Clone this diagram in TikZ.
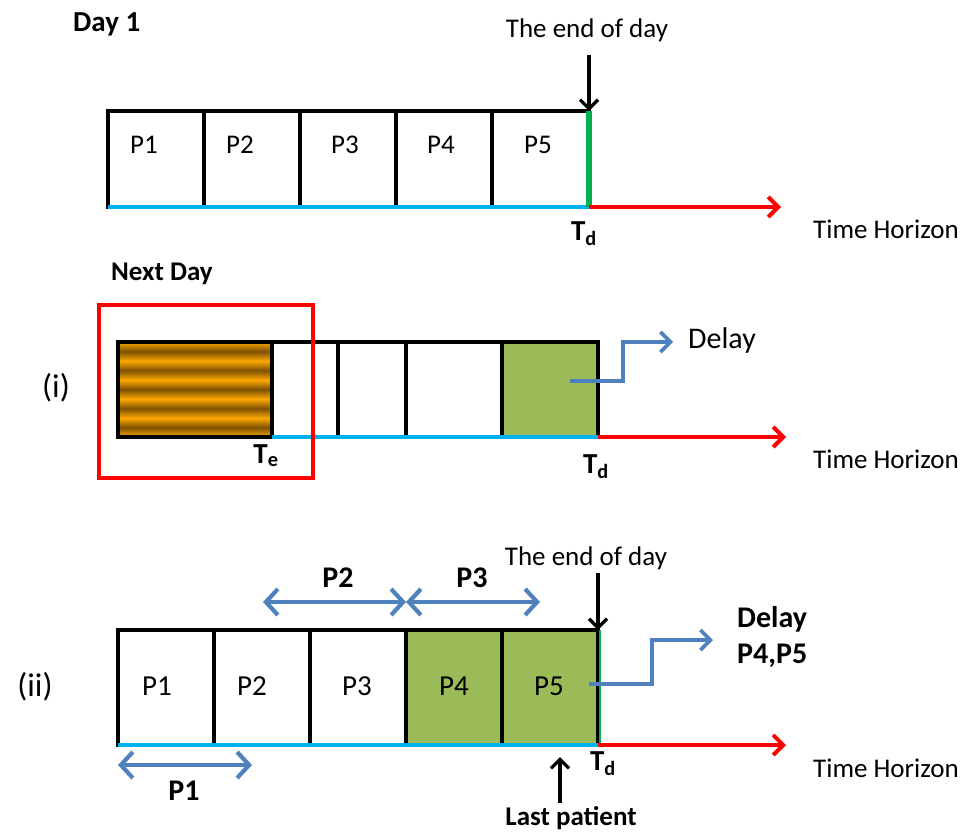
\documentclass[tikz,border=0pt]{standalone}
\usepackage{fontspec}
\setmainfont{Carlito}
\usetikzlibrary{arrows.meta}
\definecolor{cellgreen}{RGB}{155,187,89}
\definecolor{axisblue}{RGB}{0,176,240}
\definecolor{arrowblue}{RGB}{79,129,189}
\definecolor{edgegreen}{RGB}{0,176,80}
\definecolor{stripeorange}{RGB}{252,166,0}
\definecolor{stripebrown}{RGB}{125,82,0}
\tikzset{
  cell/.style={draw=black, line width=3.2pt, inner sep=0pt, outer sep=0pt, anchor=north west},
  lbl/.style={font=\fontsize{27}{31}\selectfont, inner sep=0pt, anchor=base},
  blbl/.style={font=\fontsize{27}{31}\selectfont\bfseries, inner sep=0pt, anchor=base},
  baseline/.style={draw=axisblue, line width=4pt},
  horizon/.style={draw=red, line width=4pt, -{Straight Barb[length=10pt,width=20pt,line width=4pt]}},
  blackarrow/.style={draw=black, line width=3.2pt, -{Straight Barb[length=9pt,width=18pt,line width=3.2pt]}},
  bluearrow/.style={draw=arrowblue, line width=3.6pt, -{Straight Barb[length=10pt,width=20pt,line width=3.6pt]}},
  dblarrow/.style={draw=arrowblue, line width=4.2pt, {Straight Barb[length=12pt,width=26pt,line width=4.2pt]}-{Straight Barb[length=12pt,width=26pt,line width=4.2pt]}},
}
\newcommand{\Td}{T\textsubscript{d}}
\begin{document}
\begin{tikzpicture}[x=1pt,y=-1pt]
\useasboundingbox (0,0) rectangle (963,833);

% ---------------- Day 1 ----------------
\node[blbl, anchor=base west, font=\fontsize{29}{33}\selectfont\bfseries] (day1) at (73,31) {Day 1};
\node[cell, minimum width=96pt, minimum height=96pt] (t1) at (108,111) {};
\node[cell, minimum width=96pt, minimum height=96pt] (t2) at (204,111) {};
\node[cell, minimum width=96pt, minimum height=96pt] (t3) at (300,111) {};
\node[cell, minimum width=96pt, minimum height=96pt] (t4) at (396,111) {};
\node[cell, minimum width=97pt, minimum height=96pt] (t5) at (492,111) {};
\node[lbl] (tp1) at (144,153) {P1};
\node[lbl] (tp2) at (240,153) {P2};
\node[lbl] (tp3) at (345,153) {P3};
\node[lbl] (tp4) at (441,153) {P4};
\node[lbl] (tp5) at (538,153) {P5};
\draw[baseline] (t1.south west) -- (t5.south east);
\draw[draw=edgegreen, line width=5.5pt] (t5.north east) -- (t5.south east);
\coordinate (tend) at (781,207);
\draw[horizon] (t5.south east) -- (tend);
\node[lbl] (eod1) at (587,37) {The end of day};
\coordinate (ea1) at (589,55);
\draw[blackarrow] (ea1) -- (t5.north east);
\node[blbl, font=\fontsize{29}{33}\selectfont\bfseries] (td1) at (584,240) {\Td};
\node[lbl, anchor=base west] (th1) at (813,238) {Time Horizon};

% ---------------- Next Day (i) ----------------
\node[blbl, anchor=base west] (nextday) at (111,280) {Next Day};
\node[lbl, font=\fontsize{33}{37}\selectfont] (ri) at (56,397) {(i)};
\foreach \k in {0,...,4}{
  \shade[top color=stripeorange, bottom color=stripeorange, middle color=stripebrown]
    (118,342+\k*19) rectangle (272,342+\k*19+19);
}
\node[cell, minimum width=154pt, minimum height=95pt] (m1) at (118,342) {};
\node[cell, minimum width=66pt, minimum height=95pt] (m2) at (272,342) {};
\node[cell, minimum width=68pt, minimum height=95pt] (m3) at (338,342) {};
\node[cell, minimum width=96pt, minimum height=95pt] (m4) at (406,342) {};
\node[cell, fill=cellgreen, minimum width=96pt, minimum height=95pt] (m5) at (502,342) {};
\draw[baseline] (m1.south east) -- (m5.south east);
\coordinate (mend) at (786,437);
\draw[horizon] (m5.south east) -- (mend);
\node[draw=red, line width=4pt, inner sep=0pt, anchor=north west, minimum width=214pt, minimum height=173pt] (focus) at (97,303) {};
\node[blbl, font=\fontsize{29}{33}\selectfont\bfseries] (te) at (266,463) {T\textsubscript{e}};
\node[blbl, font=\fontsize{29}{33}\selectfont\bfseries] (td2) at (596,473) {\Td};
\node[lbl, anchor=base west] (th2) at (813,468) {Time Horizon};
\coordinate (d1s) at (570,381);
\coordinate (d1e) at (673,342);
\draw[bluearrow] (d1s) -- ++(53,0) -- ++(0,-39) -- (d1e);
\node[lbl, font=\fontsize{30}{34}\selectfont, anchor=base west] (delay1) at (688,348) {Delay};

% ---------------- (ii) ----------------
\node[lbl, font=\fontsize{33}{37}\selectfont] (rii) at (35,696) {(ii)};
\node[cell, minimum width=96pt, minimum height=115pt] (b1) at (118,630) {};
\node[cell, minimum width=96pt, minimum height=115pt] (b2) at (214,630) {};
\node[cell, minimum width=96pt, minimum height=115pt] (b3) at (310,630) {};
\node[cell, fill=cellgreen, minimum width=96pt, minimum height=115pt] (b4) at (406,630) {};
\node[cell, fill=cellgreen, minimum width=96pt, minimum height=115pt] (b5) at (502,630) {};
\node[lbl, font=\fontsize{29}{33}\selectfont] (bp1) at (157,695) {P1};
\node[lbl, font=\fontsize{29}{33}\selectfont] (bp2) at (252,695) {P2};
\node[lbl, font=\fontsize{29}{33}\selectfont] (bp3) at (357,695) {P3};
\node[lbl, font=\fontsize{29}{33}\selectfont] (bp4) at (454,695) {P4};
\node[lbl, font=\fontsize{29}{33}\selectfont] (bp5) at (549,695) {P5};
\draw[baseline] (b1.south west) -- (b5.south east);
\draw[draw=edgegreen, line width=1.5pt] ([xshift=2pt]b5.north east) -- ([xshift=2pt]b5.south east);
\coordinate (bend) at (786,745);
\draw[horizon] (b5.south east) -- (bend);
\node[lbl] (eod2) at (586,565) {The end of day};
\coordinate (ea2) at (598,573);
\draw[blackarrow] (ea2) -- (b5.north east);
% P2 / P3 / P1 spans
\coordinate (p2a) at (263,602);
\coordinate (p2b) at (406,602);
\coordinate (p3b) at (540,602);
\draw[dblarrow] (p2a) -- (p2b);
\draw[dblarrow] (p2b) -- (p3b);
\node[blbl, font=\fontsize{30}{34}\selectfont\bfseries] (lp2) at (338,587) {P2};
\node[blbl, font=\fontsize{30}{34}\selectfont\bfseries] (lp3) at (472,587) {P3};
\coordinate (p1a) at (118,765);
\coordinate (p1b) at (252,765);
\draw[dblarrow] (p1a) -- (p1b);
\node[blbl, font=\fontsize{30}{34}\selectfont\bfseries] (lp1) at (184,800) {P1};
% delay
\coordinate (d2s) at (589,684);
\coordinate (d2e) at (713,640);
\draw[bluearrow] (d2s) -- ++(63,0) -- ++(0,-44) -- (d2e);
\node[blbl, anchor=base west, font=\fontsize{30}{34}\selectfont\bfseries] (delay2) at (737,627) {Delay};
\node[blbl, anchor=base west, font=\fontsize{30}{34}\selectfont\bfseries] (delay2b) at (737,663) {P4,P5};
% last patient
\coordinate (lpa) at (560,803);
\coordinate (lpb) at (560,757);
\draw[blackarrow] (lpa) -- (lpb);
\node[blbl, font=\fontsize{27}{31}\selectfont\bfseries] (lastp) at (571,825) {Last patient};
\node[blbl, font=\fontsize{29}{33}\selectfont\bfseries] (td3) at (603,770) {\Td};
\node[lbl, anchor=base west] (th3) at (813,777) {Time Horizon};
\end{tikzpicture}
\end{document}
